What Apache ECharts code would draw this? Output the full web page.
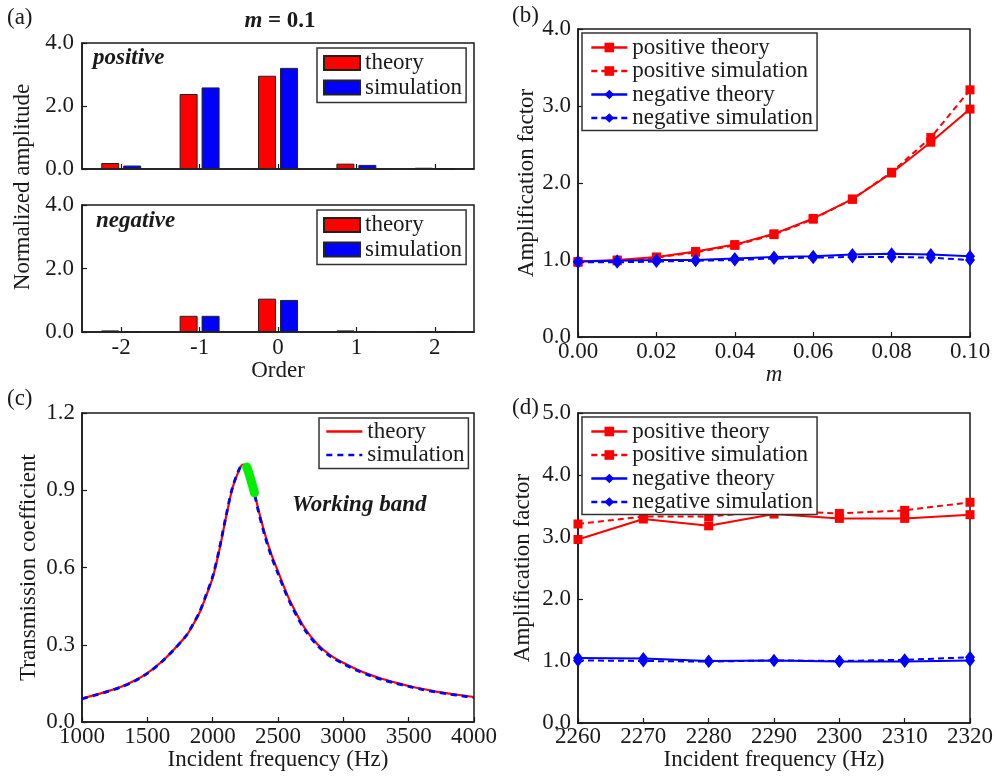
<!DOCTYPE html>
<html>
<head>
<meta charset="utf-8">
<script src="https://cdn.jsdelivr.net/npm/echarts@6/dist/echarts.min.js"></script>
<style>
  html, body { margin: 0; padding: 0; background: #fff; }
  #main { width: 996px; height: 776px; }
</style>
</head>
<body>
<div id="main"></div>
<script>
// (a) normalized amplitude per order, m = 0.1
var orders = ['-2', '-1', '0', '1', '2'];
var posTheoryAmp = [0.19, 2.38, 2.96, 0.17, 0.04];
var posSimAmp    = [0.11, 2.59, 3.21, 0.13, 0.01];
var negTheoryAmp = [0.05, 0.51, 1.05, 0.05, 0.02];
var negSimAmp    = [0.02, 0.51, 1.01, 0.03, 0.01];

// (b) amplification factor vs m
var mVals      = [0, 0.01, 0.02, 0.03, 0.04, 0.05, 0.06, 0.07, 0.08, 0.09, 0.10];
var mPosTheory = [0.98, 1.00, 1.04, 1.11, 1.20, 1.34, 1.54, 1.79, 2.13, 2.53, 2.96];
var mPosSim    = [0.97, 0.99, 1.03, 1.10, 1.19, 1.33, 1.53, 1.79, 2.14, 2.59, 3.21];
var mNegTheory = [0.98, 0.99, 1.00, 1.00, 1.02, 1.04, 1.05, 1.07, 1.08, 1.07, 1.05];
var mNegSim    = [0.97, 0.97, 0.98, 0.99, 1.00, 1.02, 1.03, 1.04, 1.04, 1.03, 1.00];

// (c) transmission coefficient vs frequency
var freqs = [1000, 1100, 1200, 1300, 1400, 1500, 1600, 1700, 1800, 1850, 1900, 1950, 2000, 2050,
             2100, 2150, 2200, 2230, 2260, 2290, 2320, 2350, 2400, 2450, 2500, 2550, 2600, 2700,
             2800, 2900, 3000, 3100, 3200, 3300, 3400, 3500, 3600, 3700, 3800, 3900, 4000];
var transTheory = [0.092, 0.105, 0.120, 0.137, 0.160, 0.190, 0.230, 0.280, 0.337, 0.378, 0.425, 0.490, 0.560, 0.665,
                   0.790, 0.905, 0.975, 1.000, 0.990, 0.945, 0.890, 0.825, 0.730, 0.650, 0.585, 0.520, 0.462, 0.368,
                   0.303, 0.260, 0.230, 0.205, 0.184, 0.167, 0.153, 0.140, 0.129, 0.119, 0.111, 0.104, 0.097];
var transSim    = [0.090, 0.104, 0.119, 0.136, 0.158, 0.189, 0.229, 0.279, 0.337, 0.380, 0.428, 0.494, 0.565, 0.670,
                   0.795, 0.908, 0.978, 1.000, 0.988, 0.942, 0.885, 0.818, 0.722, 0.642, 0.577, 0.512, 0.455, 0.362,
                   0.298, 0.255, 0.226, 0.201, 0.181, 0.164, 0.150, 0.138, 0.127, 0.117, 0.109, 0.102, 0.095];
var bandFreqs = [2260, 2270, 2280, 2290, 2300, 2310, 2320];
var bandVals  = [0.990, 0.978, 0.962, 0.945, 0.927, 0.909, 0.890];

// (d) amplification factor vs frequency
var dFreqs     = [2260, 2270, 2280, 2290, 2300, 2310, 2320];
var dPosTheory = [2.96, 3.29, 3.18, 3.37, 3.30, 3.30, 3.36];
var dPosSim    = [3.21, 3.33, 3.33, 3.42, 3.38, 3.43, 3.56];
var dNegTheory = [1.05, 1.04, 1.00, 1.01, 0.99, 0.99, 1.01];
var dNegSim    = [1.01, 1.00, 0.99, 1.01, 1.00, 1.02, 1.06];

var FONT = 'Liberation Serif';
var INK = '#1a1a1a';
var RED = '#ff0000', BLUE = '#0000ff';

function pairs(xs, ys) {
  return xs.map(function (x, i) { return [x, ys[i]]; });
}

function axisBase(gridIndex, digits, margin) {
  return {
    gridIndex: gridIndex,
    axisLine: { show: true, onZero: false, lineStyle: { color: INK, width: 1.5 } },
    axisTick: { show: true, inside: true, length: 5, lineStyle: { color: INK, width: 1.2 } },
    splitLine: { show: false },
    axisLabel: {
      fontFamily: FONT, fontSize: 23, color: INK, margin: margin,
      formatter: function (v) { return digits == null ? v : Number(v).toFixed(digits); }
    },
    nameTextStyle: { fontFamily: FONT, fontSize: 23, color: INK }
  };
}

function valAxis(gridIndex, min, max, interval, digits, margin, extra) {
  var a = axisBase(gridIndex, digits, margin);
  a.type = 'value';
  a.min = min; a.max = max; a.interval = interval;
  return Object.assign(a, extra || {});
}

function legendBox(names, left, top, rowH, pad, icon) {
  var l = {
    data: names, orient: 'vertical', left: left, top: top,
    itemWidth: 36, itemHeight: icon ? 14 : 12, itemGap: 0.5,
    padding: pad, borderColor: '#333', borderWidth: 1.5, backgroundColor: '#fff',
    selectedMode: false,
    textStyle: { fontFamily: FONT, fontSize: 23, color: INK, lineHeight: rowH },
    formatter: function (name) { return name.replace(/^c:/, ''); }
  };
  if (icon) l.icon = icon;
  else l.lineStyle = { width: 2.6 };
  return l;
}

function text(x, y, str, opts) {
  return Object.assign({
    type: 'text', x: x, y: y, z: 100,
    style: Object.assign({
      text: str, fontFamily: FONT, fontSize: 23, fill: INK,
      textAlign: 'left', textVerticalAlign: 'middle'
    }, opts || {})
  });
}

var gridStyle = { show: true, borderColor: INK, borderWidth: 1.5, backgroundColor: 'transparent' };

var barTheory = { color: RED, borderColor: '#222', borderWidth: 1 };
var barSim = { color: BLUE, borderColor: '#222', borderWidth: 1 };

var myChart = echarts.init(document.getElementById('main'));

var option = {
  animation: false,
  backgroundColor: '#fff',
  grid: [
    Object.assign({ left: 82, top: 43, width: 392, height: 126 }, gridStyle),
    Object.assign({ left: 82, top: 205, width: 392, height: 127 }, gridStyle),
    Object.assign({ left: 578, top: 29, width: 392, height: 308 }, gridStyle),
    Object.assign({ left: 82, top: 413, width: 392, height: 309 }, gridStyle),
    Object.assign({ left: 578, top: 413, width: 392, height: 310 }, gridStyle)
  ],
  xAxis: [
    Object.assign(axisBase(0, null, 4), {
      type: 'category', data: orders, boundaryGap: true,
      axisTick: { show: true, inside: true, alignWithLabel: true, length: 5, lineStyle: { color: INK, width: 1.2 } },
      axisLabel: { show: false }
    }),
    Object.assign(axisBase(1, null, 4), {
      type: 'category', data: orders, boundaryGap: true,
      axisTick: { show: true, inside: true, alignWithLabel: true, length: 5, lineStyle: { color: INK, width: 1.2 } },
      name: 'Order', nameLocation: 'middle', nameGap: 24
    }),
    valAxis(2, 0, 0.1, 0.02, 2, 3, {
      name: 'm', nameLocation: 'middle', nameGap: 18,
      nameTextStyle: { fontFamily: FONT, fontSize: 23, color: INK, fontStyle: 'italic' }
    }),
    valAxis(3, 1000, 4000, 500, null, 3, {
      name: 'Incident frequency (Hz)', nameLocation: 'middle', nameGap: 25
    }),
    valAxis(4, 2260, 2320, 10, null, 2, {
      name: 'Incident frequency (Hz)', nameLocation: 'middle', nameGap: 25
    })
  ],
  yAxis: [
    valAxis(0, 0, 4, 2, 1, 8),
    valAxis(1, 0, 4, 2, 1, 8),
    valAxis(2, 0, 4, 1, 1, 7, { name: 'Amplification factor', nameLocation: 'middle', nameGap: 40 }),
    valAxis(3, 0, 1.2, 0.3, 1, 7, { name: 'Transmission coefficient', nameLocation: 'middle', nameGap: 42 }),
    valAxis(4, 0, 5, 1, 1, 7, { name: 'Amplification factor', nameLocation: 'middle', nameGap: 44 })
  ],
  legend: [
    legendBox(['theory', 'simulation'], 317, 48, 24, [3, 4, 3, 6], 'rect'),
    legendBox(['theory', 'simulation'], 317, 210, 24, [3, 4, 3, 6], 'rect'),
    legendBox(['positive theory', 'positive simulation', 'negative theory', 'negative simulation'], 582, 33, 21, [3, 4, 1, 8]),
    legendBox([
      { name: 'c:theory', itemStyle: { opacity: 0 } },
      { name: 'c:simulation', itemStyle: { opacity: 0 } }
    ], 319, 418, 23, [2, 4, 2, 6]),
    legendBox(['positive theory', 'positive simulation', 'negative theory', 'negative simulation'], 582, 417, 21, [3, 4, 1, 8])
  ],
  series: [
    // (a) top: positive
    { type: 'bar', name: 'theory', xAxisIndex: 0, yAxisIndex: 0, data: posTheoryAmp, barWidth: 18, barGap: '22%', itemStyle: barTheory },
    { type: 'bar', name: 'simulation', xAxisIndex: 0, yAxisIndex: 0, data: posSimAmp, barWidth: 18, barGap: '22%', itemStyle: barSim },
    // (a) bottom: negative
    { type: 'bar', name: 'theory', xAxisIndex: 1, yAxisIndex: 1, data: negTheoryAmp, barWidth: 18, barGap: '22%', itemStyle: barTheory },
    { type: 'bar', name: 'simulation', xAxisIndex: 1, yAxisIndex: 1, data: negSimAmp, barWidth: 18, barGap: '22%', itemStyle: barSim },
    // (b)
    { type: 'line', name: 'positive theory', xAxisIndex: 2, yAxisIndex: 2, data: pairs(mVals, mPosTheory),
      symbol: 'rect', symbolSize: 9, lineStyle: { color: RED, width: 2 }, itemStyle: { color: RED } },
    { type: 'line', name: 'positive simulation', xAxisIndex: 2, yAxisIndex: 2, data: pairs(mVals, mPosSim),
      symbol: 'rect', symbolSize: 9, lineStyle: { color: RED, width: 2, type: [6, 4] }, itemStyle: { color: RED } },
    { type: 'line', name: 'negative theory', xAxisIndex: 2, yAxisIndex: 2, data: pairs(mVals, mNegTheory),
      symbol: 'diamond', symbolSize: [10, 13], lineStyle: { color: BLUE, width: 2 }, itemStyle: { color: BLUE } },
    { type: 'line', name: 'negative simulation', xAxisIndex: 2, yAxisIndex: 2, data: pairs(mVals, mNegSim),
      symbol: 'diamond', symbolSize: [10, 13], lineStyle: { color: BLUE, width: 2, type: [6, 4] }, itemStyle: { color: BLUE } },
    // (c)
    { type: 'line', name: 'c:theory', xAxisIndex: 3, yAxisIndex: 3, data: pairs(freqs, transTheory),
      showSymbol: false, smooth: 0.3, lineStyle: { color: RED, width: 2.2 }, itemStyle: { color: RED } },
    { type: 'line', name: 'c:simulation', xAxisIndex: 3, yAxisIndex: 3, data: pairs(freqs, transSim),
      showSymbol: false, smooth: 0.3, lineStyle: { color: BLUE, width: 2.8, type: [6, 5] }, itemStyle: { color: BLUE } },
    { type: 'line', name: 'band', xAxisIndex: 3, yAxisIndex: 3, data: pairs(bandFreqs, bandVals), z: 5,
      showSymbol: false, symbol: 'none', smooth: 0.3, lineStyle: { color: '#00ee00', width: 9, cap: 'round' } },
    // (d)
    { type: 'line', name: 'positive theory', xAxisIndex: 4, yAxisIndex: 4, data: pairs(dFreqs, dPosTheory),
      symbol: 'rect', symbolSize: 9, lineStyle: { color: RED, width: 2 }, itemStyle: { color: RED } },
    { type: 'line', name: 'positive simulation', xAxisIndex: 4, yAxisIndex: 4, data: pairs(dFreqs, dPosSim),
      symbol: 'rect', symbolSize: 9, lineStyle: { color: RED, width: 2, type: [6, 4] }, itemStyle: { color: RED } },
    { type: 'line', name: 'negative theory', xAxisIndex: 4, yAxisIndex: 4, data: pairs(dFreqs, dNegTheory),
      symbol: 'diamond', symbolSize: [10, 13], lineStyle: { color: BLUE, width: 2 }, itemStyle: { color: BLUE } },
    { type: 'line', name: 'negative simulation', xAxisIndex: 4, yAxisIndex: 4, data: pairs(dFreqs, dNegSim),
      symbol: 'diamond', symbolSize: [10, 13], lineStyle: { color: BLUE, width: 2, type: [6, 4] }, itemStyle: { color: BLUE } }
  ],
  graphic: [
    text(7, 18, '(a)'),
    text(512, 16, '(b)'),
    text(7, 399, '(c)'),
    text(512, 408, '(d)'),
    text(280, 21, '{i|m} = 0.1', {
      textAlign: 'center', fontWeight: 'bold',
      rich: { i: { fontFamily: FONT, fontSize: 23, fontStyle: 'italic', fontWeight: 'bold', fill: INK } }
    }),
    text(93, 58, 'positive', { fontWeight: 'bold', fontStyle: 'italic' }),
    text(96, 221, 'negative', { fontWeight: 'bold', fontStyle: 'italic' }),
    text(292, 505, 'Working band', { fontWeight: 'bold', fontStyle: 'italic' }),
    Object.assign(text(23, 187, 'Normalized amplitude', { textAlign: 'center' }), { rotation: Math.PI / 2 })
  ]
};
myChart.setOption(option);
</script>
</body>
</html>
